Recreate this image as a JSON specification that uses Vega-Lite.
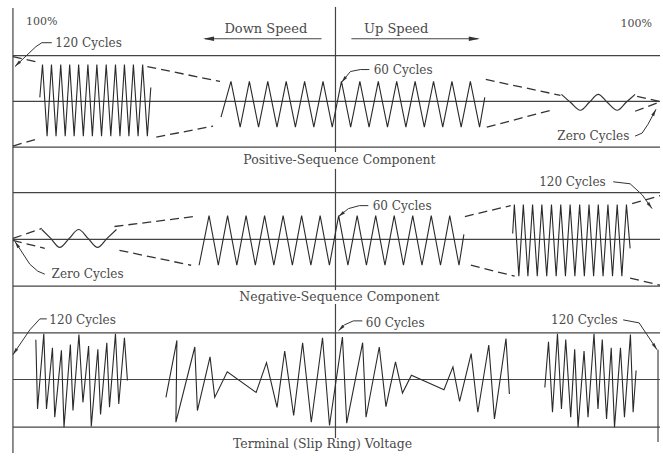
{
"$schema":"https://vega.github.io/schema/vega-lite/v6.json",
"width":663,"height":456,
"autosize":{"type":"fit","contains":"padding"},
"padding":0,
"background":"white",
"config":{"view":{"stroke":null}},
"datasets":{
"frame":[
{"g":"v0","i":0,"x":13,"y":8},{"g":"v0","i":1,"x":13,"y":456},
{"g":"v1","i":0,"x":337,"y":7},{"g":"v1","i":1,"x":337,"y":153},
{"g":"v2","i":0,"x":337,"y":170},{"g":"v2","i":1,"x":337,"y":292},
{"g":"v3","i":0,"x":337,"y":306},{"g":"v3","i":1,"x":337,"y":441},
{"g":"v4","i":0,"x":661,"y":352},{"g":"v4","i":1,"x":661,"y":445},
{"g":"h1","i":0,"x":13,"y":56},{"g":"h1","i":1,"x":663,"y":56},
{"g":"h2","i":0,"x":13,"y":102},{"g":"h2","i":1,"x":663,"y":102},
{"g":"h3","i":0,"x":13,"y":148},{"g":"h3","i":1,"x":663,"y":148},
{"g":"h4","i":0,"x":13,"y":194},{"g":"h4","i":1,"x":663,"y":194},
{"g":"h5","i":0,"x":13,"y":241},{"g":"h5","i":1,"x":663,"y":241},
{"g":"h6","i":0,"x":13,"y":288},{"g":"h6","i":1,"x":663,"y":288},
{"g":"h7","i":0,"x":13,"y":335},{"g":"h7","i":1,"x":663,"y":335},
{"g":"h8","i":0,"x":13,"y":382},{"g":"h8","i":1,"x":663,"y":382},
{"g":"h9","i":0,"x":13,"y":430},{"g":"h9","i":1,"x":663,"y":430},
{"g":"a1","i":0,"x":323,"y":39},{"g":"a1","i":1,"x":206,"y":39},
{"g":"a2","i":0,"x":353,"y":39},{"g":"a2","i":1,"x":480,"y":39}
],
"envelope":[
{"g":"e1","i":0,"x":13,"y":57},{"g":"e1","i":1,"x":40,"y":63},
{"g":"e2","i":0,"x":13,"y":147},{"g":"e2","i":1,"x":40,"y":139},
{"g":"e3","i":0,"x":148,"y":67},{"g":"e3","i":1,"x":221,"y":82},
{"g":"e4","i":0,"x":157,"y":138},{"g":"e4","i":1,"x":214,"y":127},
{"g":"e5","i":0,"x":488,"y":80},{"g":"e5","i":1,"x":563,"y":96},
{"g":"e6","i":0,"x":489,"y":128},{"g":"e6","i":1,"x":557,"y":110},
{"g":"e7","i":0,"x":640,"y":97},{"g":"e7","i":1,"x":662,"y":102},
{"g":"e8","i":0,"x":638,"y":112},{"g":"e8","i":1,"x":662,"y":103},
{"g":"e9","i":0,"x":13,"y":240},{"g":"e9","i":1,"x":42,"y":230},
{"g":"e10","i":0,"x":13,"y":242},{"g":"e10","i":1,"x":45,"y":250},
{"g":"e11","i":0,"x":115,"y":228},{"g":"e11","i":1,"x":195,"y":218},
{"g":"e12","i":0,"x":120,"y":252},{"g":"e12","i":1,"x":192,"y":267},
{"g":"e13","i":0,"x":467,"y":218},{"g":"e13","i":1,"x":513,"y":207},
{"g":"e14","i":0,"x":473,"y":267},{"g":"e14","i":1,"x":517,"y":278},
{"g":"e15","i":0,"x":635,"y":205},{"g":"e15","i":1,"x":663,"y":197},
{"g":"e16","i":0,"x":633,"y":280},{"g":"e16","i":1,"x":663,"y":287}
],
"zero":[
{"g":"z1","i":0,"x":564,"y":95},{"g":"z1","i":1,"x":573,"y":103},{"g":"z1","i":2,"x":583,"y":111},{"g":"z1","i":3,"x":592,"y":103},{"g":"z1","i":4,"x":601,"y":95},{"g":"z1","i":5,"x":610,"y":103},{"g":"z1","i":6,"x":620,"y":111},{"g":"z1","i":7,"x":629,"y":103},{"g":"z1","i":8,"x":638,"y":95},
{"g":"z2","i":0,"x":42,"y":231},{"g":"z2","i":1,"x":51,"y":240},{"g":"z2","i":2,"x":60,"y":249},{"g":"z2","i":3,"x":69.5,"y":240},{"g":"z2","i":4,"x":79,"y":231},{"g":"z2","i":5,"x":88.5,"y":240},{"g":"z2","i":6,"x":98,"y":249},{"g":"z2","i":7,"x":107.5,"y":240},{"g":"z2","i":8,"x":117,"y":231}
],
"signal":[
{"g":"w1","i":0,"x":40,"y":98},{"g":"w1","i":1,"x":42.7,"y":65},{"g":"w1","i":2,"x":47.3,"y":137},{"g":"w1","i":3,"x":51.7,"y":65},{"g":"w1","i":4,"x":56.3,"y":137},{"g":"w1","i":5,"x":61,"y":65},{"g":"w1","i":6,"x":65.5,"y":137},{"g":"w1","i":7,"x":70,"y":65},{"g":"w1","i":8,"x":74.5,"y":137},{"g":"w1","i":9,"x":79,"y":65},{"g":"w1","i":10,"x":83.7,"y":137},{"g":"w1","i":11,"x":88.3,"y":65},{"g":"w1","i":12,"x":92.8,"y":137},{"g":"w1","i":13,"x":97.3,"y":65},{"g":"w1","i":14,"x":102,"y":137},{"g":"w1","i":15,"x":106.7,"y":65},{"g":"w1","i":16,"x":111.3,"y":137},{"g":"w1","i":17,"x":116,"y":65},{"g":"w1","i":18,"x":120.5,"y":137},{"g":"w1","i":19,"x":125,"y":65},{"g":"w1","i":20,"x":129.5,"y":137},{"g":"w1","i":21,"x":134,"y":65},{"g":"w1","i":22,"x":138.7,"y":137},{"g":"w1","i":23,"x":143.3,"y":65},{"g":"w1","i":24,"x":148,"y":137},{"g":"w1","i":25,"x":151.5,"y":88},
{"g":"w2","i":0,"x":222,"y":118},{"g":"w2","i":1,"x":232,"y":82},{"g":"w2","i":2,"x":241.25,"y":128},{"g":"w2","i":3,"x":250.5,"y":82},{"g":"w2","i":4,"x":259.75,"y":128},{"g":"w2","i":5,"x":269,"y":82},{"g":"w2","i":6,"x":278.25,"y":128},{"g":"w2","i":7,"x":287.5,"y":82},{"g":"w2","i":8,"x":296.75,"y":128},{"g":"w2","i":9,"x":306,"y":82},{"g":"w2","i":10,"x":315.25,"y":128},{"g":"w2","i":11,"x":324.5,"y":82},{"g":"w2","i":12,"x":333.75,"y":128},{"g":"w2","i":13,"x":343,"y":82},{"g":"w2","i":14,"x":352.25,"y":128},{"g":"w2","i":15,"x":361.5,"y":82},{"g":"w2","i":16,"x":370.75,"y":128},{"g":"w2","i":17,"x":380,"y":82},{"g":"w2","i":18,"x":389.25,"y":128},{"g":"w2","i":19,"x":398.5,"y":82},{"g":"w2","i":20,"x":407.75,"y":128},{"g":"w2","i":21,"x":417,"y":82},{"g":"w2","i":22,"x":426.25,"y":128},{"g":"w2","i":23,"x":435.5,"y":82},{"g":"w2","i":24,"x":444.75,"y":128},{"g":"w2","i":25,"x":454,"y":82},{"g":"w2","i":26,"x":463.25,"y":128},{"g":"w2","i":27,"x":472.5,"y":82},{"g":"w2","i":28,"x":481.75,"y":128},{"g":"w2","i":29,"x":487,"y":98},
{"g":"w4","i":0,"x":200,"y":267},{"g":"w4","i":1,"x":210,"y":217},{"g":"w4","i":2,"x":219.3,"y":267},{"g":"w4","i":3,"x":228.6,"y":217},{"g":"w4","i":4,"x":237.9,"y":267},{"g":"w4","i":5,"x":247.2,"y":217},{"g":"w4","i":6,"x":256.5,"y":267},{"g":"w4","i":7,"x":265.8,"y":217},{"g":"w4","i":8,"x":275.1,"y":267},{"g":"w4","i":9,"x":284.4,"y":217},{"g":"w4","i":10,"x":293.7,"y":267},{"g":"w4","i":11,"x":303,"y":217},{"g":"w4","i":12,"x":312.3,"y":267},{"g":"w4","i":13,"x":321.6,"y":217},{"g":"w4","i":14,"x":330.9,"y":267},{"g":"w4","i":15,"x":340.2,"y":217},{"g":"w4","i":16,"x":349.5,"y":267},{"g":"w4","i":17,"x":358.8,"y":217},{"g":"w4","i":18,"x":368.1,"y":267},{"g":"w4","i":19,"x":377.4,"y":217},{"g":"w4","i":20,"x":386.7,"y":267},{"g":"w4","i":21,"x":396,"y":217},{"g":"w4","i":22,"x":405.3,"y":267},{"g":"w4","i":23,"x":414.6,"y":217},{"g":"w4","i":24,"x":423.9,"y":267},{"g":"w4","i":25,"x":433.2,"y":217},{"g":"w4","i":26,"x":442.5,"y":267},{"g":"w4","i":27,"x":451.8,"y":217},{"g":"w4","i":28,"x":461.1,"y":267},{"g":"w4","i":29,"x":466,"y":236},
{"g":"w5","i":0,"x":515,"y":235},{"g":"w5","i":1,"x":516.7,"y":206},{"g":"w5","i":2,"x":521.2,"y":278},{"g":"w5","i":3,"x":525.7,"y":206},{"g":"w5","i":4,"x":530.3,"y":278},{"g":"w5","i":5,"x":535,"y":206},{"g":"w5","i":6,"x":539.7,"y":278},{"g":"w5","i":7,"x":544.3,"y":206},{"g":"w5","i":8,"x":549.2,"y":278},{"g":"w5","i":9,"x":554,"y":206},{"g":"w5","i":10,"x":558.7,"y":278},{"g":"w5","i":11,"x":563.3,"y":206},{"g":"w5","i":12,"x":568,"y":278},{"g":"w5","i":13,"x":572.7,"y":206},{"g":"w5","i":14,"x":577.5,"y":278},{"g":"w5","i":15,"x":582.3,"y":206},{"g":"w5","i":16,"x":587,"y":278},{"g":"w5","i":17,"x":591.7,"y":206},{"g":"w5","i":18,"x":596.3,"y":278},{"g":"w5","i":19,"x":601,"y":206},{"g":"w5","i":20,"x":605.8,"y":278},{"g":"w5","i":21,"x":610.7,"y":206},{"g":"w5","i":22,"x":615.3,"y":278},{"g":"w5","i":23,"x":620,"y":206},{"g":"w5","i":24,"x":624.7,"y":278},{"g":"w5","i":25,"x":629.3,"y":206},{"g":"w5","i":26,"x":633,"y":250},
{"g":"w6","i":0,"x":36,"y":342},{"g":"w6","i":1,"x":37.7,"y":411.7},{"g":"w6","i":2,"x":44,"y":336},{"g":"w6","i":3,"x":46.7,"y":411.7},{"g":"w6","i":4,"x":52.7,"y":350},{"g":"w6","i":5,"x":55,"y":420},{"g":"w6","i":6,"x":61.7,"y":352.7},{"g":"w6","i":7,"x":64.3,"y":430},{"g":"w6","i":8,"x":70.7,"y":346.7},{"g":"w6","i":9,"x":73.3,"y":413.3},{"g":"w6","i":10,"x":79.3,"y":336.7},{"g":"w6","i":11,"x":83.3,"y":405},{"g":"w6","i":12,"x":89,"y":348.3},{"g":"w6","i":13,"x":91.7,"y":429.3},{"g":"w6","i":14,"x":98.3,"y":351.7},{"g":"w6","i":15,"x":101,"y":417.3},{"g":"w6","i":16,"x":107.3,"y":345},{"g":"w6","i":17,"x":110,"y":410},{"g":"w6","i":18,"x":116,"y":336},{"g":"w6","i":19,"x":119.3,"y":406.7},{"g":"w6","i":20,"x":125,"y":340},{"g":"w6","i":21,"x":128,"y":383},
{"g":"w7","i":0,"x":166.7,"y":400},{"g":"w7","i":1,"x":177.7,"y":342.7},{"g":"w7","i":2,"x":176.7,"y":425},{"g":"w7","i":3,"x":195.7,"y":349.3},{"g":"w7","i":4,"x":198.3,"y":413.3},{"g":"w7","i":5,"x":211,"y":359.3},{"g":"w7","i":6,"x":215.7,"y":400},{"g":"w7","i":7,"x":228.3,"y":374.3},{"g":"w7","i":8,"x":257.3,"y":395},{"g":"w7","i":9,"x":267.7,"y":365},{"g":"w7","i":10,"x":278.3,"y":410},{"g":"w7","i":11,"x":286,"y":353.3},{"g":"w7","i":12,"x":295,"y":418.3},{"g":"w7","i":13,"x":304,"y":345},{"g":"w7","i":14,"x":312.7,"y":425},{"g":"w7","i":15,"x":324,"y":340},{"g":"w7","i":16,"x":331,"y":428.3},{"g":"w7","i":17,"x":344,"y":339.3},{"g":"w7","i":18,"x":348.3,"y":426},{"g":"w7","i":19,"x":364.3,"y":345},{"g":"w7","i":20,"x":367.7,"y":420},{"g":"w7","i":21,"x":381,"y":349.3},{"g":"w7","i":22,"x":387.7,"y":409.3},{"g":"w7","i":23,"x":397.3,"y":364.3},{"g":"w7","i":24,"x":404.3,"y":395.7},{"g":"w7","i":25,"x":413.3,"y":377.7},{"g":"w7","i":26,"x":446,"y":392.3},{"g":"w7","i":27,"x":455,"y":369.3},{"g":"w7","i":28,"x":461.7,"y":404},{"g":"w7","i":29,"x":473.3,"y":356},{"g":"w7","i":30,"x":480,"y":415},{"g":"w7","i":31,"x":491,"y":347.3},{"g":"w7","i":32,"x":496.7,"y":421.7},{"g":"w7","i":33,"x":508.3,"y":340.7},{"g":"w7","i":34,"x":511.7,"y":396.7},
{"g":"w8","i":0,"x":547.3,"y":390},{"g":"w8","i":1,"x":551,"y":344},{"g":"w8","i":2,"x":555,"y":415},{"g":"w8","i":3,"x":560,"y":336},{"g":"w8","i":4,"x":564,"y":411.7},{"g":"w8","i":5,"x":568.3,"y":341.7},{"g":"w8","i":6,"x":573.3,"y":420},{"g":"w8","i":7,"x":577.3,"y":351.7},{"g":"w8","i":8,"x":580.7,"y":430},{"g":"w8","i":9,"x":586.7,"y":353.3},{"g":"w8","i":10,"x":590.7,"y":420},{"g":"w8","i":11,"x":596.7,"y":336},{"g":"w8","i":12,"x":600.7,"y":411.7},{"g":"w8","i":13,"x":605,"y":341.7},{"g":"w8","i":14,"x":609.3,"y":421.7},{"g":"w8","i":15,"x":614,"y":350},{"g":"w8","i":16,"x":617.3,"y":430},{"g":"w8","i":17,"x":623.3,"y":350},{"g":"w8","i":18,"x":627.3,"y":420},{"g":"w8","i":19,"x":633.3,"y":336.7},{"g":"w8","i":20,"x":636,"y":415},{"g":"w8","i":21,"x":639,"y":373}
],
"leader":[
{"g":"L1","i":0,"x":52,"y":43},{"g":"L1","i":1,"x":42,"y":43},{"g":"L1","i":2,"x":36,"y":47},{"g":"L1","i":3,"x":15,"y":67},
{"g":"L2","i":0,"x":371,"y":70},{"g":"L2","i":1,"x":362,"y":70},{"g":"L2","i":2,"x":352,"y":72},{"g":"L2","i":3,"x":343,"y":83},
{"g":"L3","i":0,"x":638,"y":137},{"g":"L3","i":1,"x":645,"y":134},{"g":"L3","i":2,"x":651,"y":125},{"g":"L3","i":3,"x":659,"y":110},
{"g":"L4","i":0,"x":370,"y":207},{"g":"L4","i":1,"x":361,"y":207},{"g":"L4","i":2,"x":350,"y":210},{"g":"L4","i":3,"x":340,"y":218},
{"g":"L5","i":0,"x":616,"y":183},{"g":"L5","i":1,"x":633,"y":185},{"g":"L5","i":2,"x":645,"y":196},{"g":"L5","i":3,"x":655,"y":210},
{"g":"L6","i":0,"x":45,"y":276},{"g":"L6","i":1,"x":38,"y":273},{"g":"L6","i":2,"x":30,"y":266},{"g":"L6","i":3,"x":15,"y":243},
{"g":"L7","i":0,"x":47,"y":321},{"g":"L7","i":1,"x":40,"y":321},{"g":"L7","i":2,"x":30,"y":332},{"g":"L7","i":3,"x":13,"y":357},
{"g":"L8","i":0,"x":364,"y":323},{"g":"L8","i":1,"x":355,"y":323},{"g":"L8","i":2,"x":346,"y":327},{"g":"L8","i":3,"x":340,"y":333},
{"g":"L9","i":0,"x":626,"y":322},{"g":"L9","i":1,"x":642,"y":325},{"g":"L9","i":2,"x":650,"y":337},{"g":"L9","i":3,"x":660,"y":352}
],
"bigtips":[
{"x":204,"y":39,"angle":270},{"x":482,"y":39,"angle":90}
],
"tips":[
{"x":15,"y":67,"angle":226},{"x":343,"y":83,"angle":219},{"x":659,"y":110,"angle":28},{"x":340,"y":218,"angle":231},{"x":655,"y":210,"angle":144},{"x":15,"y":243,"angle":327},{"x":13,"y":357,"angle":214},{"x":340,"y":333,"angle":225},{"x":660,"y":352,"angle":146}
],
"labels":[
{"t":"120 Cycles","x":89,"y":43},{"t":"60 Cycles","x":405,"y":70},{"t":"Zero Cycles","x":596,"y":137},
{"t":"120 Cycles","x":575,"y":183},{"t":"60 Cycles","x":404,"y":207},{"t":"Zero Cycles","x":88,"y":276},
{"t":"120 Cycles","x":83,"y":322},{"t":"60 Cycles","x":397,"y":325},{"t":"120 Cycles","x":587,"y":322}
],
"captions":[
{"t":"Positive-Sequence Component","x":341,"y":161},{"t":"Negative-Sequence Component","x":341,"y":299},{"t":"Terminal (Slip Ring) Voltage","x":324,"y":447}
],
"heads":[
{"t":"Down Speed","x":267,"y":29},{"t":"Up Speed","x":398,"y":29}
],
"pct":[
{"t":"100%","x":42,"y":22},{"t":"100%","x":639,"y":24}
]
},
"encoding":{
"x":{"field":"x","type":"quantitative","scale":{"domain":[0,663],"nice":false,"zero":false},"axis":null},
"y":{"field":"y","type":"quantitative","scale":{"domain":[0,456],"nice":false,"zero":false,"reverse":true},"axis":null}
},
"layer":[
{"data":{"name":"frame"},"mark":{"type":"line","color":"#444","strokeWidth":1.2},"encoding":{"detail":{"field":"g"},"order":{"field":"i","type":"quantitative"}}},
{"data":{"name":"envelope"},"mark":{"type":"line","color":"#333","strokeWidth":1.3,"strokeDash":[9,5]},"encoding":{"detail":{"field":"g"},"order":{"field":"i","type":"quantitative"}}},
{"data":{"name":"zero"},"mark":{"type":"line","color":"#333","strokeWidth":1.2,"interpolate":"monotone"},"encoding":{"detail":{"field":"g"},"order":{"field":"i","type":"quantitative"}}},
{"data":{"name":"signal"},"mark":{"type":"line","color":"#2a2a2a","strokeWidth":1.1},"encoding":{"detail":{"field":"g"},"order":{"field":"i","type":"quantitative"}}},
{"data":{"name":"leader"},"mark":{"type":"line","color":"#333","strokeWidth":1},"encoding":{"detail":{"field":"g"},"order":{"field":"i","type":"quantitative"}}},
{"data":{"name":"bigtips"},"mark":{"type":"point","shape":"M0,0L0.4,2L-0.4,2Z","filled":true,"color":"#333","opacity":1,"size":121},"encoding":{"angle":{"field":"angle","type":"quantitative","scale":null}}},
{"data":{"name":"tips"},"mark":{"type":"point","shape":"M0,0L0.45,2L-0.45,2Z","filled":true,"color":"#333","opacity":1,"size":49},"encoding":{"angle":{"field":"angle","type":"quantitative","scale":null}}},
{"data":{"name":"labels"},"mark":{"type":"text","font":"DejaVu Serif","fontSize":12,"color":"#4a4a4a","align":"center","baseline":"middle"},"encoding":{"text":{"field":"t"}}},
{"data":{"name":"captions"},"mark":{"type":"text","font":"DejaVu Serif","fontSize":12.5,"color":"#4a4a4a","align":"center","baseline":"middle"},"encoding":{"text":{"field":"t"}}},
{"data":{"name":"heads"},"mark":{"type":"text","font":"DejaVu Serif","fontSize":13,"color":"#4a4a4a","align":"center","baseline":"middle"},"encoding":{"text":{"field":"t"}}},
{"data":{"name":"pct"},"mark":{"type":"text","font":"DejaVu Serif","fontSize":11,"color":"#4a4a4a","align":"center","baseline":"middle"},"encoding":{"text":{"field":"t"}}}
]
}
